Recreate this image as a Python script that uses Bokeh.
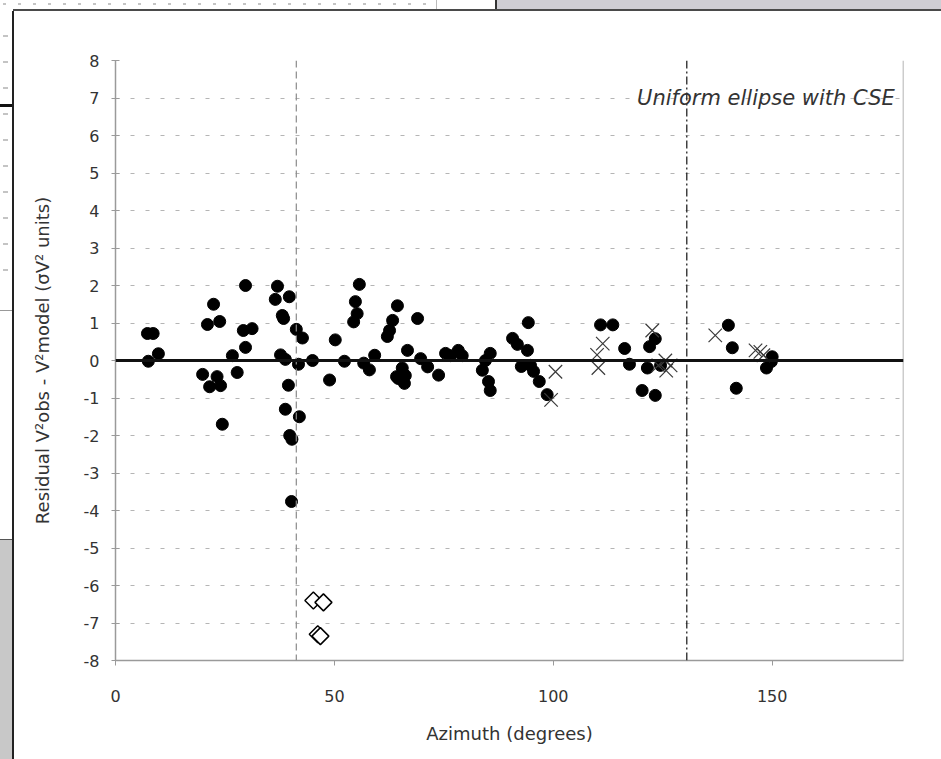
from bokeh.plotting import figure
from bokeh.models import Span, Label, FixedTicker, Div, NumeralTickFormatter
from bokeh.layouts import column, row
from bokeh.embed import file_html
from bokeh.resources import INLINE

# ---- data ----
circle_az = [7.3, 8.6, 7.5, 9.8, 19.9, 21.0, 22.4, 23.8, 21.5, 23.2, 24.0, 24.4,
             26.7, 27.8, 29.7, 29.2, 31.2, 29.7, 37.0, 36.5, 39.7, 38.1, 38.4,
             37.7, 38.8, 39.5, 38.8, 42.0, 39.8, 40.3, 40.2, 41.3, 42.7, 41.8,
             45.0, 48.9, 50.2, 52.3, 55.7, 54.8, 55.2, 54.4, 56.7, 58.0, 59.2,
             64.4, 63.3, 62.6, 62.1, 69.0, 66.7, 64.2, 65.5, 66.0, 66.2, 64.6,
             69.7, 71.3, 73.8, 75.4, 76.5, 78.3, 79.2, 83.8, 84.5, 85.2, 85.6,
             85.6, 90.7, 91.8, 94.1, 94.3, 92.7, 94.8, 95.5, 96.8, 98.6, 110.8,
             113.6, 116.3, 117.4, 120.3, 123.3, 123.3, 122.0, 121.5, 124.5,
             140.0, 140.9, 141.8, 150.0, 148.7, 149.8]
circle_res = [0.72, 0.72, -0.02, 0.18, -0.37, 0.96, 1.5, 1.04, -0.7, -0.43, -0.67, -1.7,
              0.13, -0.32, 2.0, 0.8, 0.85, 0.35, 1.98, 1.63, 1.7, 1.2, 1.12,
              0.15, 0.03, -0.66, -1.3, -1.5, -2.0, -2.1, -3.76, 0.83, 0.6, -0.1,
              0.0, -0.52, 0.55, -0.02, 2.03, 1.57, 1.25, 1.03, -0.07, -0.25, 0.14,
              1.46, 1.07, 0.8, 0.64, 1.12, 0.27, -0.43, -0.2, -0.61, -0.4, -0.48,
              0.05, -0.17, -0.39, 0.19, 0.13, 0.27, 0.13, -0.26, 0.0, -0.56, -0.8,
              0.19, 0.59, 0.43, 0.27, 1.01, -0.16, -0.13, -0.29, -0.56, -0.91, 0.95,
              0.95, 0.32, -0.1, -0.8, -0.93, 0.58, 0.37, -0.2, -0.13,
              0.94, 0.34, -0.74, 0.1, -0.2, -0.03]

cross_az = [99.5, 100.5, 110.0, 111.3, 110.3, 122.6, 124.0, 125.6, 126.8, 125.8,
            137.0, 146.2, 147.3, 148.0]
cross_res = [-1.05, -0.3, 0.15, 0.45, -0.2, 0.8, -0.13, 0.0, -0.13, -0.27,
             0.67, 0.27, 0.23, 0.14]

diamond_az = [45.2, 47.5, 46.2, 46.8]
diamond_res = [-6.4, -6.45, -7.3, -7.35]

dashed_az = 41.3
dashdot_az = 130.5
x_ticks = [0, 50, 100, 150]
y_ticks = list(range(-8, 9))
annotation_text = "Uniform ellipse with CSE"

FONT = "DejaVu Sans"

# ---- surrounding window decoration (pure CSS, no text) ----
top_bg = ", ".join([
    "linear-gradient(to bottom, transparent 0px, transparent 9px, #4a4a4a 9px, #4a4a4a 11px) 13px 0px / 928px 11px no-repeat",
    "repeating-linear-gradient(to right, #c4c4c4 0px, #c4c4c4 3px, transparent 3px, transparent 15px) 3px 3px / 432px 2px no-repeat",
    "linear-gradient(to right, white 0px, white 436px, #bbbbbb 436px, #bbbbbb 437px, white 437px, white 495px, #333333 495px, #333333 497px, #cfced4 497px, #cfced4 100%)",
])
top = Div(text="", width=941, height=11, margin=0,
          styles={"background": top_bg})

left_bg = ", ".join([
    "linear-gradient(to right, transparent 0px, transparent 12px, #222222 12px, #222222 14px)",
    "linear-gradient(to bottom, #111111 0px, #111111 3px) 0px 93px / 12px 3px no-repeat",
    "linear-gradient(to bottom, #999999 0px, #999999 1px) 0px 299px / 12px 1px no-repeat",
    "repeating-linear-gradient(to bottom, transparent 0px, transparent 24px, #c4c4c4 24px, #c4c4c4 26px) 3px 0px / 5px 280px no-repeat",
    "linear-gradient(to bottom, white 0px, white 528px, #555555 528px, #555555 529px, #c8c8c8 529px, #c8c8c8 100%)",
])
left = Div(text="", width=14, height=748, margin=0,
           styles={"background": left_bg})

p = figure(width=927, height=748, x_range=(0, 180), y_range=(-8, 8),
           output_backend="svg", toolbar_location=None,
           min_border_left=101, min_border_right=38,
           min_border_top=49, min_border_bottom=99, margin=0)
p.outline_line_color = None
p.background_fill_color = "white"
p.border_fill_color = "white"

# grid
p.xgrid.grid_line_color = None
p.ygrid.grid_line_color = "#b5b5b5"
p.ygrid.grid_line_dash = "4 11"
p.ygrid.grid_line_width = 1

# axes
p.xaxis.ticker = FixedTicker(ticks=x_ticks)
p.yaxis.ticker = FixedTicker(ticks=y_ticks)
p.xaxis.formatter = NumeralTickFormatter(format="0")
p.yaxis.formatter = NumeralTickFormatter(format="0")
for ax in (p.xaxis, p.yaxis):
    ax.axis_line_color = "#9a9a9a"
    ax.axis_line_width = 1.5
    ax.major_tick_line_color = "#9a9a9a"
    ax.minor_tick_line_color = None
    ax.major_label_text_font = FONT
    ax.major_label_text_font_size = "16px"
    ax.major_label_text_color = "#333333"
    ax.axis_label_text_font = FONT
    ax.axis_label_text_font_size = "18px"
    ax.axis_label_text_font_style = "normal"
    ax.axis_label_text_color = "#333333"
p.xaxis.major_tick_in = 0
p.xaxis.major_tick_out = 5
p.xaxis.major_label_standoff = 24
p.xaxis.axis_label = "Azimuth (degrees)"
p.xaxis.axis_label_standoff = 18
p.yaxis.major_tick_in = 4
p.yaxis.major_tick_out = 4
p.yaxis.major_label_standoff = 12
p.yaxis.axis_label = "Residual V²obs - V²model (σV² units)"
p.yaxis.axis_label_standoff = 28

# right border line
p.add_layout(Span(location=180, dimension="height", line_color="#9a9a9a", line_width=1.5))

# reference lines
p.add_layout(Span(location=dashed_az, dimension="height", line_color="#8a8a8a",
                  line_width=1.2, line_dash="7 4"))
p.add_layout(Span(location=dashdot_az, dimension="height", line_color="#111111",
                  line_width=1.2, line_dash="8 3 2 3"))
p.add_layout(Span(location=0, dimension="width", line_color="#111111", line_width=3))

# markers
p.scatter(circle_az, circle_res, marker="circle", size=12,
          fill_color="black", line_color="black")
p.scatter(cross_az, cross_res, marker="x", size=19,
          line_color="#3a3a3a", line_width=1.2)
p.scatter(diamond_az, diamond_res, marker="square", angle=0.785398, size=12,
          fill_color="white", line_color="black", line_width=1.5)

p.add_layout(Label(x=178, y=7, text=annotation_text, text_align="right",
                   text_baseline="middle", text_font=FONT, text_font_size="21px",
                   text_font_style="italic", text_color="#333333"))

layout = column(top, row(left, p, spacing=0, margin=0), spacing=0, margin=0)
open("out.html", "w").write(file_html(layout, INLINE))
